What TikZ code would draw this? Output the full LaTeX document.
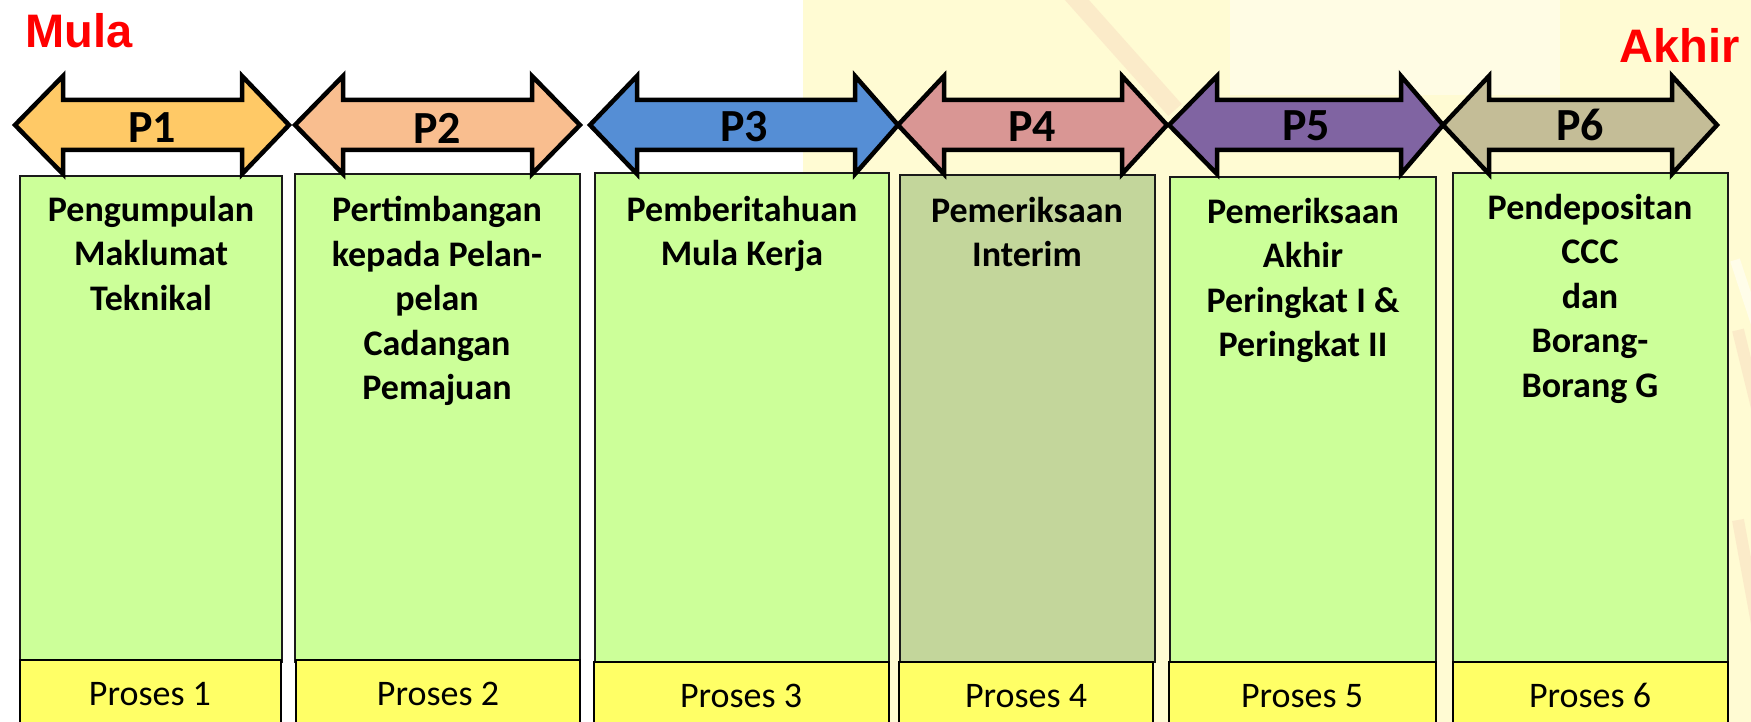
\documentclass[tikz,border=0pt]{standalone}
\usepackage{fontspec}
\setmainfont{Carlito}
\newfontfamily\arialfont{Liberation Sans}
\definecolor{cream}{HTML}{FFFBD3}
\definecolor{streak}{HTML}{F2C9B4}
\definecolor{cA}{HTML}{FFC966}
\definecolor{cB}{HTML}{F9BE8F}
\definecolor{cC}{HTML}{558ED5}
\definecolor{cD}{HTML}{D99694}
\definecolor{cE}{HTML}{8064A2}
\definecolor{cF}{HTML}{C4BD97}
\definecolor{boxgreen}{HTML}{CCFF99}
\definecolor{boxolive}{HTML}{C3D69B}
\definecolor{boxyellow}{HTML}{FFFF66}
\definecolor{edge}{HTML}{1A1A1A}
\tikzset{
  parrow/.style={draw=black, line width=4.5pt, line join=miter},
  plabel/.style={inner sep=0pt, font=\fontsize{46}{50}\selectfont\bfseries},
  greenbox/.style={draw=edge, line width=2.2pt, fill=boxgreen},
  yellowbox/.style={draw=black, line width=2.5pt, fill=boxyellow},
  boxtext/.style={anchor=north, inner sep=0pt, align=center, font=\fontsize{36}{44.5}\selectfont\bfseries},
  proctext/.style={anchor=base, inner sep=0pt, font=\fontsize{36}{40}\selectfont},
  endtext/.style={inner sep=0pt, text=red, font=\arialfont\bfseries}
}
\newcommand{\dblarrow}[5]{% color, left tip, left back, right back, right tip
  \path[parrow, fill=#1] (#2,125) -- (#3,76) -- (#3,100) -- (#4,100) -- (#4,76) -- (#5,125)
    -- (#4,174) -- (#4,150) -- (#3,150) -- (#3,174) -- cycle;}
\begin{document}
\begin{tikzpicture}[x=1pt, y=-1pt]
\useasboundingbox (0,0) rectangle (1751,722);
% background
\fill[white] (0,0) rectangle (1751,722);
\fill[cream] (803,0) rectangle (1751,722);
\fill[white, opacity=0.4] (1230,0) rectangle (1560,95);
\draw[streak, line width=18pt, opacity=0.3] (1068,-10) -- (1175,110);
\draw[streak, line width=12pt, opacity=0.3] (1738,330) -- (1760,420);
\draw[streak, line width=12pt, opacity=0.3] (1738,520) -- (1760,640);
\draw[white, line width=10pt, opacity=0.5] (1735,260) -- (1758,330);
% green boxes
\path[greenbox] (20,176) rectangle (282,662);
\path[greenbox] (295,174) rectangle (580,662);
\path[greenbox] (595,173) rectangle (889,662);
\path[greenbox, fill=boxolive] (900,175) rectangle (1155,662);
\path[greenbox] (1170,177) rectangle (1436,662);
\path[greenbox] (1453,173) rectangle (1728,662);
% yellow boxes
\path[yellowbox] (20,660) rectangle (281,735);
\path[yellowbox] (296,660) rectangle (580,735);
\path[yellowbox] (594,662) rectangle (889,735);
\path[yellowbox] (899,662) rectangle (1153,735);
\path[yellowbox] (1169,662) rectangle (1436,735);
\path[yellowbox] (1453,662) rectangle (1728,735);
% arrows
\dblarrow{cA}{15}{63}{242}{289}
\dblarrow{cB}{295}{343}{532}{580}
\dblarrow{cC}{590}{637}{855}{898}
\dblarrow{cD}{898}{944}{1122}{1167}
\dblarrow{cE}{1169}{1217}{1401}{1443}
\dblarrow{cF}{1443}{1489}{1672}{1717}
\node[plabel] (p1) at (152,128) {P1};
\node[plabel] (p2) at (437,128) {P2};
\node[plabel] (p3) at (744,127) {P3};
\node[plabel] (p4) at (1032,127) {P4};
\node[plabel] (p5) at (1306,126) {P5};
\node[plabel] (p6) at (1580,125) {P6};
% titles
\node[endtext, anchor=base west, font=\arialfont\bfseries\fontsize{47}{50}\selectfont] (mula) at (25,48) {Mula};
\node[endtext, anchor=base east, font=\arialfont\bfseries\fontsize{47}{50}\selectfont] (akhir) at (1740,63) {Akhir};
% box texts
\node[boxtext] (t1) at (151,196) {Pengumpulan\\Maklumat\\Teknikal};
\node[boxtext] (t2) at (437,196) {Pertimbangan\\kepada Pelan-\\pelan\\Cadangan\\Pemajuan};
\node[boxtext] (t3) at (742,196) {Pemberitahuan\\Mula Kerja};
\node[boxtext] (t4) at (1027,197) {Pemeriksaan\\Interim};
\node[boxtext] (t5) at (1303,198) {Pemeriksaan\\Akhir\\Peringkat I \&\\Peringkat II};
\node[boxtext] (t6) at (1590,194) {Pendepositan\\CCC\\dan\\Borang-\\Borang G};
% process labels
\node[proctext] (q1) at (150,705) {Proses 1};
\node[proctext] (q2) at (438,705) {Proses 2};
\node[proctext] (q3) at (741,707) {Proses 3};
\node[proctext] (q4) at (1026,707) {Proses 4};
\node[proctext] (q5) at (1302,707) {Proses 5};
\node[proctext] (q6) at (1590,707) {Proses 6};
\end{tikzpicture}
\end{document}
